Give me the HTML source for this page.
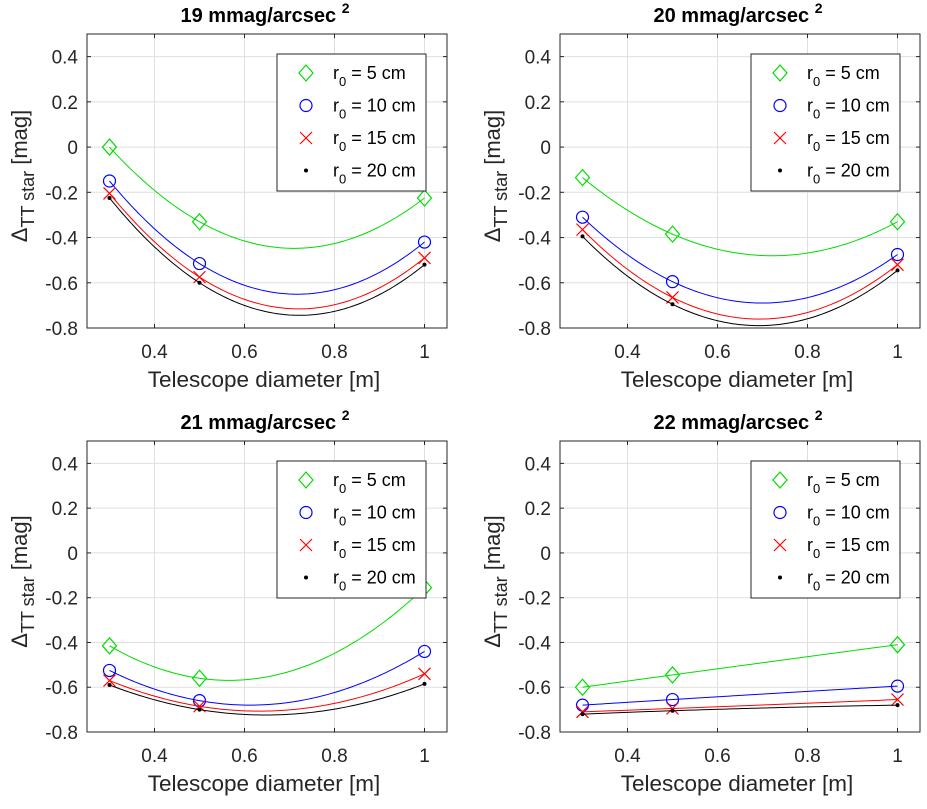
<!DOCTYPE html>
<html><head><meta charset="utf-8"><style>
body{margin:0;background:#fff;}
svg{display:block;font-family:"Liberation Sans",sans-serif;}
</style></head><body>
<svg id="fig" width="927" height="809" viewBox="0 0 927 809"></svg>
<script>
const xsVals = [0.3, 0.5, 1.0];
const xTicks = [0.4, 0.6, 0.8, 1];
const xTickLabels = ['0.4','0.6','0.8','1'];
const yTicks = [0.4, 0.2, 0, -0.2, -0.4, -0.6, -0.8];
const yTickLabels = ['0.4','0.2','0','-0.2','-0.4','-0.6','-0.8'];
const seriesNames = ['5', '10', '15', '20'];
const panelTitles = ['19', '20', '21', '22'];
const p19Green = [0, -0.33, -0.225];
const p19Blue = [-0.15, -0.515, -0.42];
const p19Red = [-0.205, -0.575, -0.49];
const p19Black = [-0.225, -0.60, -0.52];
const p20Green = [-0.135, -0.385, -0.33];
const p20Blue = [-0.31, -0.595, -0.475];
const p20Red = [-0.365, -0.665, -0.52];
const p20Black = [-0.395, -0.695, -0.545];
const p21Green = [-0.415, -0.56, -0.155];
const p21Blue = [-0.525, -0.66, -0.44];
const p21Red = [-0.57, -0.685, -0.54];
const p21Black = [-0.59, -0.70, -0.585];
const p22Green = [-0.60, -0.545, -0.41];
const p22Blue = [-0.68, -0.655, -0.595];
const p22Red = [-0.71, -0.695, -0.655];
const p22Black = [-0.72, -0.705, -0.68];

const NS='http://www.w3.org/2000/svg';
const svg=document.getElementById('fig');
function mk(tag,attrs,parent){const e=document.createElementNS(NS,tag);for(const k in attrs)e.setAttribute(k,attrs[k]);(parent||svg).appendChild(e);return e;}
const colors=['#00dd00','#0000ff','#ff0000','#000000'];
const panels=[
 {L:87,T:34,W:360,H:294,data:[p19Green,p19Blue,p19Red,p19Black],legX:277,legY:54},
 {L:560,T:34,W:360,H:294,data:[p20Green,p20Blue,p20Red,p20Black],legX:751,legY:54},
 {L:87,T:441,W:360,H:291,data:[p21Green,p21Blue,p21Red,p21Black],legX:277,legY:461},
 {L:560,T:441,W:360,H:291,data:[p22Green,p22Blue,p22Red,p22Black],legX:751,legY:461}
];
function quad(xs,ys,x){let s=0;for(let i=0;i<3;i++){let t=ys[i];for(let j=0;j<3;j++)if(j!==i)t*=(x-xs[j])/(xs[i]-xs[j]);s+=t;}return s;}
function marker(g,k,x,y,c){
  if(k===0){const e=mk('path',{d:`M${x} ${y-8}L${x+7} ${y}L${x} ${y+8}L${x-7} ${y}Z`,fill:'none',stroke:c,'stroke-width':1.2},g);}
  else if(k===1){const e=mk('circle',{cx:x,cy:y,r:6,fill:'none',stroke:c,'stroke-width':1.2},g);}
  else if(k===2){const e=mk('path',{d:`M${x-6} ${y-6}L${x+6} ${y+6}M${x+6} ${y-6}L${x-6} ${y+6}`,stroke:c,'stroke-width':1.2},g);}
  else {const e=mk('circle',{cx:x,cy:y,r:2,fill:c},g);}
}
panels.forEach((p,pi)=>{
  const g=mk('g',{});
  
  
  const sx=v=>p.L+(v-0.25)/0.8*p.W;
  const sy=v=>p.T+(0.5-v)/1.3*p.H;
  mk('rect',{x:p.L,y:p.T,width:p.W,height:p.H,fill:'#fff'},g);
  xTicks.forEach((v,i)=>{const X=sx(v);
    mk('line',{x1:X,y1:p.T,x2:X,y2:p.T+p.H,stroke:'#dfdfdf','stroke-width':1},g);
    mk('line',{x1:X,y1:p.T+p.H,x2:X,y2:p.T+p.H-4,stroke:'#262626'},g);
    mk('line',{x1:X,y1:p.T,x2:X,y2:p.T+4,stroke:'#262626'},g);
    const t=mk('text',{x:X,y:p.T+p.H+30,'text-anchor':'middle','font-size':19,fill:'#262626'},g);t.textContent=xTickLabels[i];
    });
  yTicks.forEach((v,i)=>{const Y=sy(v);
    mk('line',{x1:p.L,y1:Y,x2:p.L+p.W,y2:Y,stroke:'#dfdfdf','stroke-width':1},g);
    mk('line',{x1:p.L,y1:Y,x2:p.L+4,y2:Y,stroke:'#262626'},g);
    mk('line',{x1:p.L+p.W,y1:Y,x2:p.L+p.W-4,y2:Y,stroke:'#262626'},g);
    const t=mk('text',{x:p.L-9,y:Y+7,'text-anchor':'end','font-size':19,fill:'#262626'},g);t.textContent=yTickLabels[i];
    });
  p.data.forEach((ys,k)=>{
    let d='';for(let i=0;i<=100;i++){const xv=0.3+0.7*i/100;d+=(i?'L':'M')+sx(xv).toFixed(2)+' '+sy(quad(xsVals,ys,xv)).toFixed(2);}
    const pa=mk('path',{d:d,fill:'none',stroke:colors[k],'stroke-width':1},g);
    
    ys.forEach((v,i)=>marker(g,k,sx(xsVals[i]),sy(v),colors[k]));
  });
  mk('rect',{x:p.L,y:p.T,width:p.W,height:p.H,fill:'none',stroke:'#262626','stroke-width':1},g);
  const lg=mk('g',{},g);
  mk('rect',{x:p.legX,y:p.legY,width:149,height:137,fill:'#fff',stroke:'#262626','stroke-width':1},lg);
  seriesNames.forEach((n,k)=>{const Y=p.legY+19+k*32.5;
    marker(lg,k,p.legX+29,Y,colors[k]);
    const t=mk('text',{x:p.legX+56,y:Y+6,'font-size':18,fill:'#000'},lg);
    
    t.innerHTML='r<tspan dy="7" font-size="13">0</tspan><tspan dy="-7"> = '+n+' cm</tspan>';});
  const ti=mk('text',{x:p.L+p.W/2-2,y:p.T-12,'text-anchor':'middle','font-size':20,'font-weight':'bold',fill:'#000'},g);
  
  ti.innerHTML=panelTitles[pi]+' mmag/arcsec <tspan dy="-9" font-size="14">2</tspan>';
  const xl=mk('text',{x:p.L+p.W/2-3,y:p.T+p.H+59,'text-anchor':'middle','font-size':22.5,fill:'#262626'},g);
  xl.textContent='Telescope diameter [m]';
  const yl=mk('text',{x:0,y:0,'text-anchor':'middle','font-size':22,fill:'#262626',transform:`translate(${p.L-60},${p.T+p.H/2-5}) rotate(-90)`},g);
  
  yl.innerHTML='Δ<tspan dy="7" font-size="18">TT star</tspan><tspan dy="-7"> [mag]</tspan>';
});
</script>
</body></html>
